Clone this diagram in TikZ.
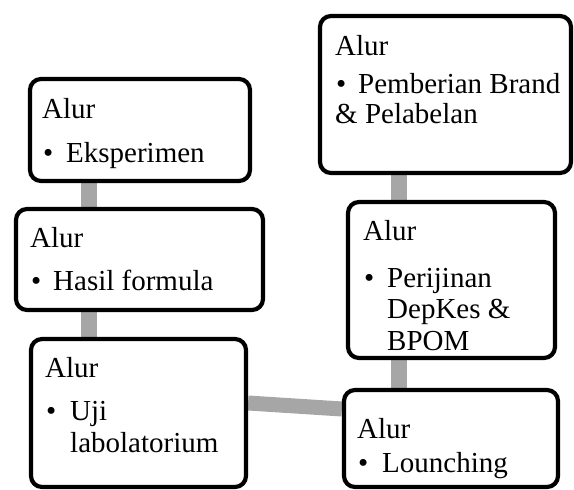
\documentclass[tikz,border=0pt]{standalone}
\usepackage{fontspec}
\setmainfont{Liberation Serif}
\usetikzlibrary{backgrounds}
\definecolor{conngray}{RGB}{166,166,166}
\tikzset{
  box/.style={draw=black, line width=4.2pt, rounded corners=11pt, fill=white, inner sep=0pt},
  conn/.style={draw=conngray, line width=16pt},
  txt/.style={anchor=base west, inner sep=0pt, font=\fontsize{29}{31}\selectfont},
}
\begin{document}
\begin{tikzpicture}[x=1pt,y=-1pt]
\useasboundingbox (0,0) rectangle (574,490);
% boxes
\node[box, minimum width=220pt, minimum height=102pt] (b1) at (140,130) {};
\node[box, minimum width=247pt, minimum height=101pt] (b2) at (139.5,259.5) {};
\node[box, minimum width=215pt, minimum height=148pt] (b3) at (138.5,413) {};
\node[box, minimum width=251pt, minimum height=157pt] (b4) at (445.5,94.5) {};
\node[box, minimum width=207pt, minimum height=156pt] (b5) at (451.5,280) {};
\node[box, minimum width=214pt, minimum height=97pt] (b6) at (451,438.5) {};
% connector guide coordinates
\coordinate (xl) at (89,0);
\coordinate (xr) at (399,0);
\coordinate (ya) at (0,403);
\coordinate (yb) at (0,409);
\begin{scope}[on background layer]
\draw[conn] (b1.south -| xl) -- (b2.north -| xl);
\draw[conn] (b2.south -| xl) -- (b3.north -| xl);
\draw[conn] (b4.south -| xr) -- (b5.north -| xr);
\draw[conn] (b5.south -| xr) -- (b6.north -| xr);
\draw[conn, line width=15pt] (b3.east |- ya) -- (b6.west |- yb);
\end{scope}
% texts
\node[txt] (t1a) at (42,118) {Alur};
\node[txt] (t1b) at (43,162) {•};
\node[txt] (t1c) at (66,162) {Eksperimen};
\node[txt] (t2a) at (30,247) {Alur};
\node[txt] (t2b) at (31,290) {•};
\node[txt] (t2c) at (53,290) {Hasil formula};
\node[txt] (t3a) at (45,377) {Alur};
\node[txt] (t3b) at (46,420) {•};
\node[txt] (t3c) at (70,420) {Uji};
\node[txt] (t3d) at (70,452) {labolatorium};
\node[txt] (t4a) at (335,55) {Alur};
\node[txt] (t4b) at (336,93) {•};
\node[txt] (t4c) at (358,93) {Pemberian Brand};
\node[txt] (t4d) at (335,123) {\& Pelabelan};
\node[txt] (t5a) at (363,240) {Alur};
\node[txt] (t5b) at (364,287) {•};
\node[txt] (t5c) at (387,287) {Perijinan};
\node[txt] (t5d) at (387,318) {DepKes \&};
\node[txt] (t5e) at (387,350) {BPOM};
\node[txt] (t6a) at (357,438) {Alur};
\node[txt] (t6b) at (358,472) {•};
\node[txt] (t6c) at (382,472) {Lounching};
\end{tikzpicture}
\end{document}
